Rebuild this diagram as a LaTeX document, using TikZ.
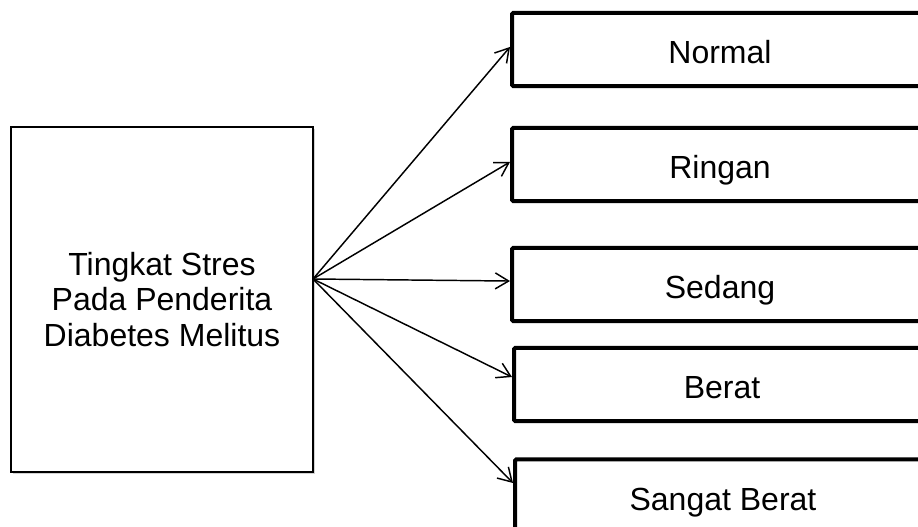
\documentclass[tikz,border=0pt]{standalone}
\usepackage{fontspec}
\setmainfont{Liberation Sans}
\usetikzlibrary{arrows.meta,shadows}
\begin{document}
\begin{tikzpicture}[x=0.75pt,y=-0.75pt,
  mainbox/.style={draw=black,line width=1.5pt,fill=white,align=center,
    minimum width=226.5pt,minimum height=258.75pt,inner sep=0pt,
    font=\fontsize{24}{26.5}\selectfont,
    drop shadow={opacity=0.35,shadow xshift=1.5pt,shadow yshift=-1.5pt}},
  levelbox/.style={draw=black,line width=3pt,rounded corners=1pt,fill=white,
    minimum width=312pt,minimum height=55pt,inner sep=0pt,
    text height=21pt,text depth=0pt,
    font=\fontsize{24}{26.5}\selectfont,
    drop shadow={opacity=0.3,shadow xshift=1pt,shadow yshift=-1.2pt}},
  link/.style={line width=1.1pt,-{Straight Barb[length=10pt,width=12pt,line width=1.1pt]}}]
\clip (0,0) rectangle (918,527);
\fill[white] (0,0) rectangle (918,527);
\node[mainbox] (src) at (162,299.5) {Tingkat Stres\\Pada Penderita\\Diabetes Melitus};
\coordinate (o) at (313,279);
\node[levelbox] (n) at (720,49.5) {Normal};
\node[levelbox] (r) at (720,164.5) {Ringan};
\node[levelbox] (s) at (720,284.5) {Sedang};
\node[levelbox] (b) at (722,384.5) {Berat};
\node[levelbox] (sb) at (723,496) {Sangat Berat};
\draw[link] (o) -- ([yshift=1.9pt]n.west);
\draw[link] (o) -- ([yshift=1.9pt]r.west);
\draw[link] (o) -- ([yshift=2.6pt]s.west);
\draw[link] (o) -- ([yshift=5.6pt]b.west);
\draw[link] (o) -- ([yshift=9.75pt]sb.west);
\end{tikzpicture}
\end{document}
